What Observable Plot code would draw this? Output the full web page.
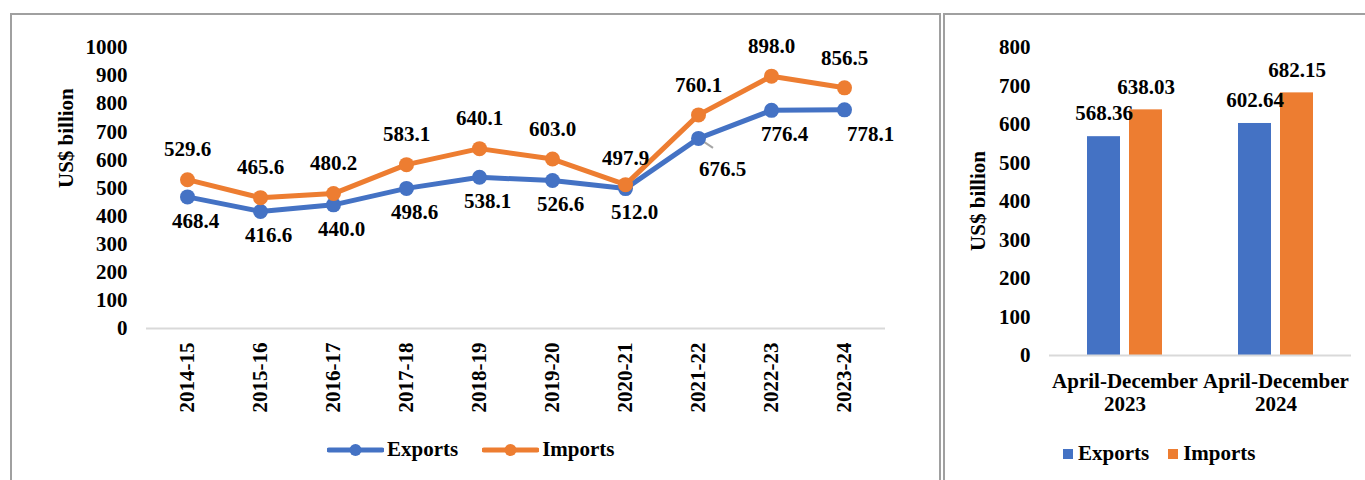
<!DOCTYPE html>
<html>
<head>
<meta charset="utf-8">
<script src="https://cdn.jsdelivr.net/npm/d3@7"></script>
<script src="https://cdn.jsdelivr.net/npm/@observablehq/plot@0.6"></script>
<style>
  html, body { margin: 0; padding: 0; background: #fff; }
  #page { position: relative; width: 1365px; height: 480px; overflow: hidden; background: #fff;
          font-family: "Liberation Serif", "Times New Roman", serif; font-weight: bold; }
  .box { position: absolute; border: 2px solid #a0a0a0; box-sizing: border-box; }
  .chart { position: absolute; top: 0; }
  .legend { position: absolute; display: flex; align-items: center; font-size: 21px; color: #000; white-space: nowrap; }
  .legend .item { display: flex; align-items: center; }
</style>
</head>
<body>
<div id="page">
  <div class="box" style="left:10px; top:13px; width:931px; height:480px;"></div>
  <div class="box" style="left:943px; top:13px; width:440px; height:480px;"></div>
  <div id="left" class="chart" style="left:0px;"></div>
  <div id="right" class="chart" style="left:940px;"></div>
  <div id="legendLeft" class="legend" style="left:327px; top:437px;"></div>
  <div id="legendRight" class="legend" style="left:1063px; top:441px;"></div>
</div>
<script>
// ---- Data ----
const years = ["2014-15", "2015-16", "2016-17", "2017-18", "2018-19", "2019-20", "2020-21", "2021-22", "2022-23", "2023-24"];
const exportsValues = [468.4, 416.6, 440.0, 498.6, 538.1, 526.6, 497.9, 676.5, 776.4, 778.1];
const importsValues = [529.6, 465.6, 480.2, 583.1, 640.1, 603.0, 512.0, 760.1, 898.0, 856.5];
const seriesNames = ["Exports", "Imports"];
const periods = ["April-December 2023", "April-December 2024"];
const periodExports = [568.36, 602.64];
const periodImports = [638.03, 682.15];
const yTicksLeft = [0, 100, 200, 300, 400, 500, 600, 700, 800, 900, 1000];
const yTicksRight = [0, 100, 200, 300, 400, 500, 600, 700, 800];
const yLabel = "US$ billion";

const colors = ["#4472C4", "#ED7D31"];
const font = '"Liberation Serif", "Times New Roman", serif';

// ---- Left: line chart ----
const lineData = [
  ...years.map((year, i) => ({year, series: "Exports", value: exportsValues[i]})),
  ...years.map((year, i) => ({year, series: "Imports", value: importsValues[i]}))
];

// label placement (styling of the data labels, as in the original)
const labelDefault = {Exports: [8, 24], Imports: [0, -30]};
const labelOverride = {
  "Exports|2020-21": [0, -30],
  "Exports|2021-22": [24, 31],
  "Exports|2022-23": [13, 24],
  "Exports|2023-24": [26, 24],
  "Imports|2020-21": [9, 28]
};
const labelRows = lineData.map(d => {
  const [dx, dy] = labelOverride[d.series + "|" + d.year] || labelDefault[d.series];
  return {...d, dx, dy};
});
const labelGroups = d3.groups(labelRows, d => d.dx + "," + d.dy);
const leaderKey = {series: "Exports", year: "2021-22"};

const leader = (index, scales) => {
  const d = lineData.find(r => r.series === leaderKey.series && r.year === leaderKey.year);
  const x0 = scales.x(d.year), y0 = scales.y(d.value);
  return d3.create("svg:line")
    .attr("x1", x0).attr("y1", y0)
    .attr("x2", x0 + 15).attr("y2", y0 + 10)
    .attr("stroke", "#a6a6a6").attr("stroke-width", 2)
    .node();
};

const left = Plot.plot({
  width: 940,
  height: 420,
  marginLeft: 146,
  marginRight: 55,
  marginTop: 47,
  marginBottom: 92,
  style: {fontFamily: font, fontSize: "21px", fontWeight: "bold", background: "transparent", overflow: "visible", color: "#000"},
  x: {type: "point", domain: years, padding: 0.5},
  y: {domain: [0, 1000]},
  color: {domain: seriesNames, range: colors},
  marks: [
    Plot.ruleY([0], {stroke: "#d9d9d9", strokeWidth: 2}),
    Plot.axisY({ticks: yTicksLeft, tickSize: 0, tickPadding: 19, tickFormat: d => String(d), label: null, fontSize: 21}),
    Plot.axisX({tickRotate: -90, tickSize: 0, tickPadding: 14, label: null, fontSize: 21}),
    Plot.text([yLabel], {frameAnchor: "left", rotate: -90, dx: -80, fontSize: 21, fontWeight: "bold"}),
    leader,
    Plot.line(lineData, {x: "year", y: "value", stroke: "series", strokeWidth: 5, strokeLinejoin: "round", strokeLinecap: "round"}),
    Plot.dot(lineData, {x: "year", y: "value", fill: "series", r: 7.5}),
    ...labelGroups.map(([, rows]) => Plot.text(rows, {
      x: "year", y: "value", text: d => d.value.toFixed(1),
      dx: rows[0].dx, dy: rows[0].dy, fontSize: 21, fontWeight: "bold", fill: "#000"
    }))
  ]
});
document.getElementById("left").append(left);

// ---- Right: grouped bar chart ----
const barData = [
  ...periods.map((period, i) => ({period, series: "Exports", value: periodExports[i]})),
  ...periods.map((period, i) => ({period, series: "Imports", value: periodImports[i]}))
];

const right = Plot.plot({
  width: 425,
  height: 425,
  marginLeft: 108,
  marginRight: 14,
  marginTop: 47,
  marginBottom: 70,
  style: {fontFamily: font, fontSize: "21px", fontWeight: "bold", background: "transparent", overflow: "visible", color: "#000"},
  fx: {domain: periods, padding: 0, label: null},
  x: {domain: seriesNames, paddingInner: 0.21, paddingOuter: 0.866, axis: null},
  y: {domain: [0, 800]},
  color: {domain: seriesNames, range: colors},
  marks: [
    Plot.barY(barData, {fx: "period", x: "series", y: "value", fill: "series"}),
    Plot.ruleY([0], {stroke: "#d9d9d9", strokeWidth: 2}),
    Plot.axisY({ticks: yTicksRight, tickSize: 0, tickPadding: 19, tickFormat: d => String(d), label: null, fontSize: 21}),
    Plot.axisFx({anchor: "bottom", tickSize: 0, tickPadding: 16, label: null, fontSize: 21, lineHeight: 1.1,
                 tickFormat: d => d.replace(" ", "\n")}),
    Plot.text(barData, {fx: "period", x: "series", y: "value", text: d => d.value.toFixed(2), dy: -23, fontSize: 21, fontWeight: "bold", fill: "#000"})
  ]
});
// y label for right panel (outside facets)
document.getElementById("right").append(right);

// Right y-axis title as a separate overlay using real text
const rTitle = document.createElementNS("http://www.w3.org/2000/svg", "text");
rTitle.textContent = yLabel;
rTitle.setAttribute("transform", "translate(38,201) rotate(-90)");
rTitle.setAttribute("text-anchor", "middle");
rTitle.setAttribute("dominant-baseline", "central");
rTitle.setAttribute("font-size", "21");
rTitle.setAttribute("font-weight", "bold");
rTitle.setAttribute("font-family", font);
right.append(rTitle);

// ---- Legends ----
function lineSwatch(color) {
  const svg = d3.create("svg").attr("width", 57).attr("height", 16).style("margin-right", "3px");
  svg.append("line").attr("x1", 2).attr("x2", 55).attr("y1", 8).attr("y2", 8)
    .attr("stroke", color).attr("stroke-width", 5).attr("stroke-linecap", "round");
  svg.append("circle").attr("cx", 28.5).attr("cy", 8).attr("r", 6).attr("fill", color);
  return svg.node();
}
function squareSwatch(color) {
  const svg = d3.create("svg").attr("width", 10).attr("height", 10).style("margin-right", "5px");
  svg.append("rect").attr("width", 10).attr("height", 10).attr("fill", color);
  return svg.node();
}
const legL = document.getElementById("legendLeft");
const legR = document.getElementById("legendRight");
seriesNames.forEach((name, i) => {
  const a = document.createElement("div"); a.className = "item";
  a.style.marginRight = i === 0 ? "24px" : "0";
  a.append(lineSwatch(colors[i])); a.append(document.createTextNode(name));
  legL.append(a);
  const b = document.createElement("div"); b.className = "item";
  b.style.marginRight = i === 0 ? "19px" : "0";
  b.append(squareSwatch(colors[i])); b.append(document.createTextNode(name));
  legR.append(b);
});
</script>
</body>
</html>
